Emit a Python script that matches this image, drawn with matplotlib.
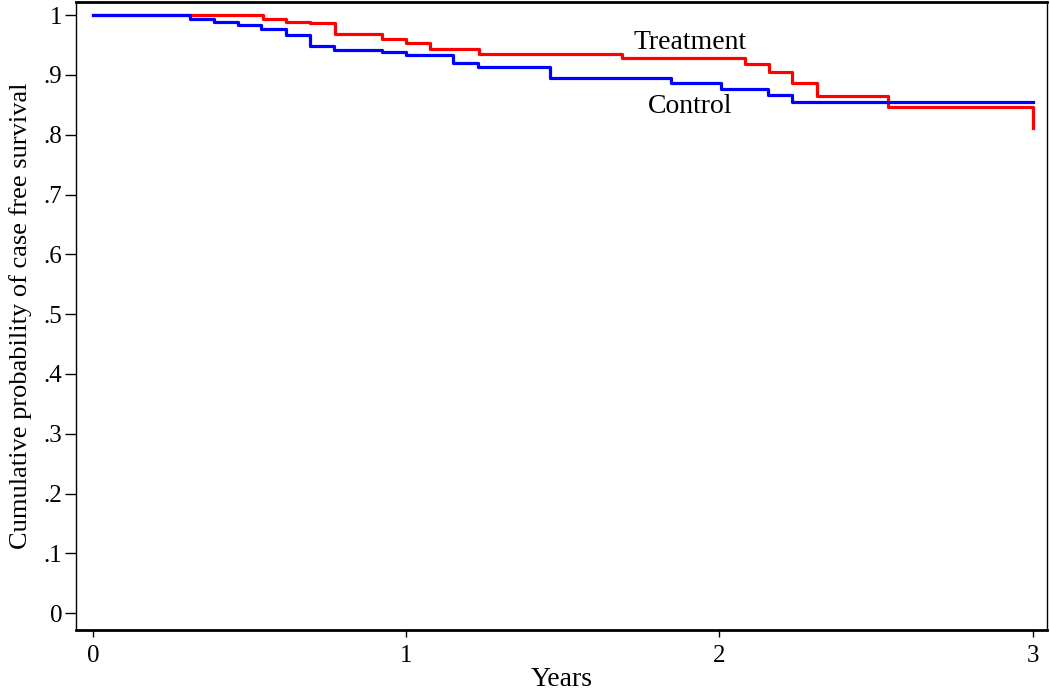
import matplotlib
matplotlib.use("Agg")
import matplotlib.pyplot as plt

# Kaplan-Meier style step data (time in years, survival)
ctrl_t = [0, 0.310, 0.387, 0.463, 0.538, 0.615, 0.693, 0.770, 0.923, 0.999,
          1.150, 1.228, 1.459, 1.844, 2.004, 2.155, 2.232, 3.0]
ctrl_s = [1.0, 0.994, 0.988, 0.984, 0.977, 0.966, 0.948, 0.942, 0.939, 0.934,
          0.920, 0.914, 0.895, 0.886, 0.877, 0.866, 0.854, 0.854]

trt_t = [0, 0.542, 0.616, 0.693, 0.772, 0.923, 0.999, 1.076, 1.232, 1.689,
         2.081, 2.158, 2.233, 2.310, 2.538, 3.0, 3.0]
trt_s = [1.0, 0.994, 0.988, 0.986, 0.969, 0.960, 0.954, 0.943, 0.935, 0.929,
         0.918, 0.905, 0.886, 0.865, 0.846, 0.846, 0.811]

yticks = [0, .1, .2, .3, .4, .5, .6, .7, .8, .9, 1]
ylabels = ["0", ".1", ".2", ".3", ".4", ".5", ".6", ".7", ".8", ".9", "1"]
xticks = [0, 1, 2, 3]

plt.rcParams['font.family'] = ['Liberation Serif', 'DejaVu Serif']

fig = plt.figure(figsize=(10.5, 6.94), dpi=100)
ax = fig.add_axes([0.0724, 0.0922, 0.9246, 0.905])

ax.plot(trt_t, trt_s, drawstyle='steps-post', color='#ff0000', lw=2.3)
ax.plot(ctrl_t, ctrl_s, drawstyle='steps-post', color='#0000ff', lw=2.3)

ax.text(1.905, 0.955, "Treatment", fontsize=20, ha='center', va='center')
ax.text(1.905, 0.847, "Control", fontsize=20, ha='center', va='center')

ax.set_xlim(-0.054, 3.045)
ax.set_ylim(-0.028, 1.022)
ax.set_xticks(xticks)
ax.set_xticklabels([str(x) for x in xticks], fontsize=18)
ax.set_yticks(yticks)
ax.set_yticklabels(ylabels, fontsize=18)
ax.tick_params(axis='y', direction='out', length=8, width=1, pad=2)
ax.tick_params(axis='x', direction='out', length=5, width=1, pad=6)

for side in ['left', 'right']:
    ax.spines[side].set_linewidth(1.0)
for side in ['top', 'bottom']:
    ax.spines[side].set_linewidth(2.0)

ax.set_xlabel("Years", fontsize=20, labelpad=0)
ax.set_ylabel("Cumulative probability of case free survival", fontsize=19, labelpad=8)

fig.savefig("out.png", dpi=100)
